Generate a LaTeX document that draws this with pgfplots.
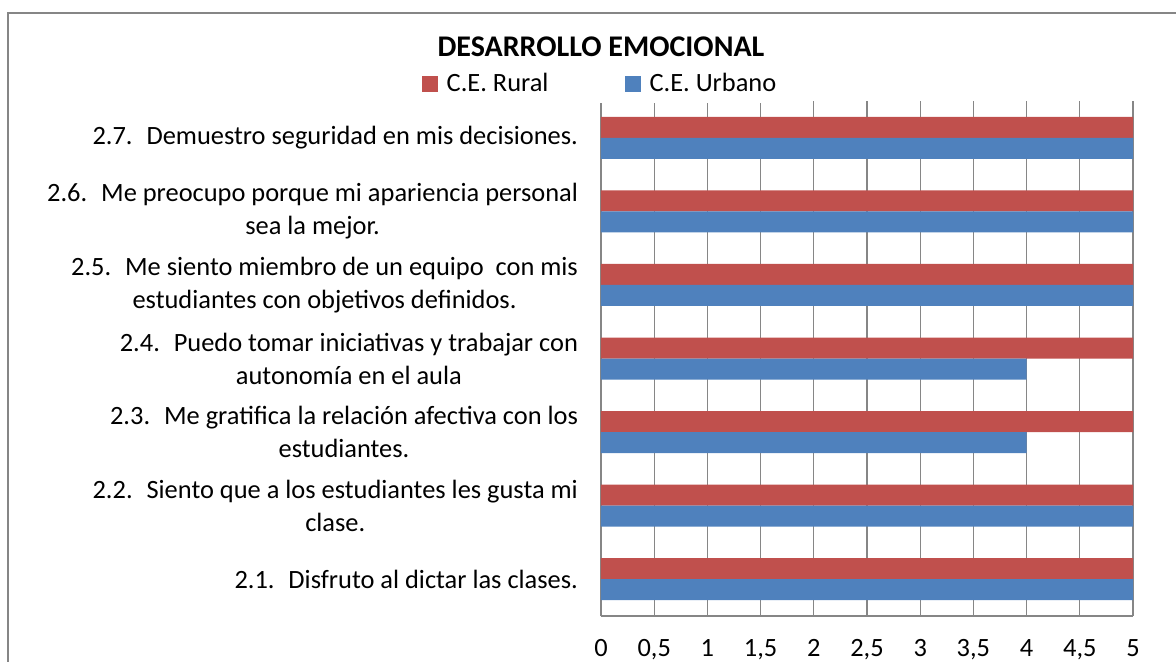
\documentclass[border=0pt]{standalone}
\usepackage{pgfplots}
\pgfplotsset{compat=1.18}
\usepackage{fontspec}
\setmainfont{Carlito}
\definecolor{rural}{HTML}{C0504D}
\definecolor{urbano}{HTML}{4F81BD}
\definecolor{gridgray}{HTML}{868686}

\begin{document}
\begin{tikzpicture}
  % 1 px of the reference = 0.5 pt; axis box lower left at (0,0)
  \useasboundingbox (-300.5pt,-22.5pt) rectangle (287.5pt,308pt);
  \draw[gridgray, line width=1.2pt] (-296.5pt,-40pt) -- (-296.5pt,301.5pt) -- (300pt,301.5pt);
  \begin{axis}[
      at={(0pt,0pt)}, anchor=south west,
      scale only axis, width=266pt, height=257.5pt,
      xbar, bar width=10.5pt,
      xmin=0, xmax=5, ymin=0.5, ymax=7.5,
      xtick={0,0.5,1,1.5,2,2.5,3,3.5,4,4.5,5},
      ytick={1,2,3,4,5,6,7},
      yticklabels={
        {2.1.~ Disfruto al dictar las clases.},
        {2.2.~ Siento que a los estudiantes les gusta mi\\clase.},
        {2.3.~ Me gratifica la relación afectiva con los\\estudiantes.},
        {2.4.~ Puedo tomar iniciativas y trabajar con\\autonomía en el aula},
        {2.5.~ Me siento miembro de un equipo~ con mis\\estudiantes con objetivos definidos.},
        {2.6.~ Me preocupo porque mi apariencia personal\\sea la mejor.},
        {2.7.~ Demuestro seguridad en mis decisiones.}},
      xmajorgrids, grid style={gridgray, line width=0.6pt},
      axis x line*=bottom, axis y line*=left,
      axis line style={gridgray, line width=0.8pt, -},
      major tick length=0pt,
      tick label style={font=\fontsize{13.2}{16.5}\selectfont},
      /pgf/number format/use comma,
      /pgf/number format/assume math mode=true,
      yticklabel style={align=center, xshift=-8pt},
      xticklabel style={yshift=-8.3pt},
      title={DESARROLLO EMOCIONAL},
      title style={at={(0,1.082)}, anchor=center,
        font=\bfseries\fontsize{15}{17}\selectfont},
      legend columns=2,
      legend style={at={(0,1.033)}, anchor=center, draw=none,
        font=\fontsize{13.2}{15}\selectfont,
        /tikz/column 2/.style={column sep=36pt}},
      legend image code/.code={\fill[#1] (0pt,-4pt) rectangle (8pt,4pt); \path (10.5pt,0pt);},
    ]
    \addplot[fill=rural, draw=none, bar shift=5.25pt]
      coordinates {(5,1)(5,2)(5,3)(5,4)(5,5)(5,6)(5,7)};
    \addlegendentry{C.E. Rural}
    \addplot[fill=urbano, draw=none, bar shift=-5.25pt]
      coordinates {(5,1)(5,2)(4,3)(4,4)(5,5)(5,6)(5,7)};
    \addlegendentry{C.E. Urbano}
  \end{axis}
\end{tikzpicture}
\end{document}
